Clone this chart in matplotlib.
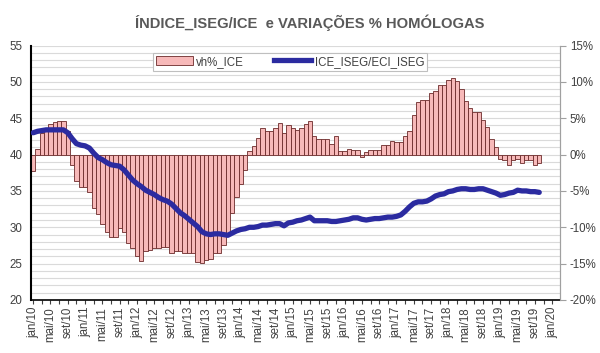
import matplotlib
matplotlib.use("Agg")
import matplotlib.pyplot as plt
from matplotlib.ticker import FixedLocator, FuncFormatter, MultipleLocator
from matplotlib.patches import Patch
from matplotlib.lines import Line2D

plt.rcParams['font.family'] = ['Liberation Sans', 'DejaVu Sans']

title = "ÍNDICE_ISEG/ICE  e VARIAÇÕES % HOMÓLOGAS"
bar_label = "vh%_ICE"
line_label = "ICE_ISEG/ECI_ISEG"

months_pt = ["jan", "fev", "mar", "abr", "mai", "jun", "jul", "ago", "set", "out", "nov", "dez"]

# year-on-year change (%) , monthly from jan/10 to out/19
vh_ice = [
    -2.2, 0.7, 3.0, 3.7, 4.2, 4.5, 4.6, 4.6, 3.2, -1.4,
    -3.7, -4.4, -4.4, -5.1, -7.4, -8.2, -9.6, -10.7, -11.3, -11.3,
    -10.1, -10.7, -12.1, -12.8, -13.9, -14.6, -13.3, -13.1, -12.8, -12.8,
    -12.7, -12.7, -13.6, -13.3, -13.3, -13.5, -13.5, -13.6, -14.8, -14.9,
    -14.5, -14.3, -13.6, -13.6, -12.5, -10.8, -8.0, -5.8, -4.1, -2.1,
    0.5, 1.2, 2.3, 3.7, 3.2, 3.2, 3.7, 4.3, 3.0, 4.0,
    3.7, 3.4, 3.6, 4.2, 4.6, 2.6, 2.1, 2.1, 2.1, 1.5,
    2.6, 0.5, 0.5, 0.8, 0.6, 0.6, -0.4, 0.3, 0.6, 0.6,
    0.6, 1.3, 1.3, 1.9, 1.7, 1.7, 2.6, 3.3, 5.4, 7.2,
    7.5, 7.5, 8.4, 8.8, 9.6, 9.6, 10.2, 10.5, 10.1, 9.0,
    7.4, 6.4, 5.8, 5.8, 4.8, 3.8, 2.2, 1.1, -0.6, -0.7,
    -1.4, -0.8, -0.6, -1.1, -0.7, -0.8, -1.4, -1.1,
]

# ICE_ISEG/ECI_ISEG index (left axis)
ice_iseg = [
    43.0, 43.2, 43.3, 43.4, 43.4, 43.4, 43.4, 43.4, 43.0, 42.2,
    41.5, 41.3, 41.2, 40.9, 40.2, 39.6, 39.3, 38.9, 38.6, 38.5,
    38.4, 37.9, 37.2, 36.5, 36.0, 35.6, 35.1, 34.8, 34.5, 34.1,
    33.8, 33.6, 33.2, 32.6, 32.0, 31.6, 31.1, 30.6, 30.1, 29.4,
    29.1, 29.0, 29.1, 29.1, 29.0, 28.9, 29.2, 29.5, 29.7, 29.8,
    30.0, 30.0, 30.1, 30.3, 30.3, 30.4, 30.5, 30.5, 30.2, 30.6,
    30.7, 30.9, 31.0, 31.2, 31.4, 30.9, 30.9, 30.9, 30.9, 30.8,
    30.8, 30.9, 31.0, 31.1, 31.3, 31.3, 31.1, 31.0, 31.1, 31.2,
    31.2, 31.3, 31.4, 31.4, 31.5, 31.7, 32.2, 32.8, 33.3, 33.5,
    33.5, 33.6, 33.9, 34.3, 34.5, 34.6, 34.9, 35.0, 35.2, 35.3,
    35.3, 35.2, 35.2, 35.3, 35.3, 35.1, 34.9, 34.7, 34.4, 34.5,
    34.7, 34.8, 35.1, 35.0, 35.0, 34.9, 34.9, 34.8,
]

n_axis_months = 122  # jan/10 .. fev/20 category slots
tick_labels = [f"{months_pt[m % 12]}/{10 + m // 12:02d}" for m in range(0, 121, 4)]

fig = plt.figure(figsize=(6.0, 3.53), dpi=100)
ax = fig.add_axes([31/600, 1 - 300/353, (560 - 31)/600, (300 - 45.5)/353])
ax2 = ax.twinx()

x = list(range(len(vh_ice)))
ax.bar(x, vh_ice, width=1.0, color="#F7B9B9", edgecolor="#6B2A2A", linewidth=0.6, zorder=2)
ax.set_ylim(-20, 15)
ax.set_xlim(-0.5, n_axis_months - 0.2)
ax.yaxis.set_major_locator(MultipleLocator(5))
ax.yaxis.set_minor_locator(MultipleLocator(1))
ax.yaxis.set_major_formatter(FuncFormatter(lambda v, p: f"{v:.0f}%"))
ax.yaxis.tick_right()
ax.yaxis.set_label_position("right")
ax.grid(axis="y", which="both", color="#DADADA", linewidth=0.8, zorder=0)
ax.set_axisbelow(True)

xl = list(range(len(ice_iseg)))
ax2.plot(xl, ice_iseg, color="#2B2BA0", linewidth=3.8, solid_capstyle="round", zorder=3)
ax2.set_ylim(20, 55)
ax2.yaxis.set_major_locator(MultipleLocator(5))
ax2.yaxis.tick_left()
ax2.yaxis.set_label_position("left")

# x axis
ax.xaxis.set_major_locator(FixedLocator(list(range(0, 121, 4))))
ax.xaxis.set_minor_locator(FixedLocator(list(range(2, 121, 4))))
ax.set_xticklabels(tick_labels, rotation=90, fontsize=8.3, color="#404040")
ax.tick_params(axis="x", which="both", direction="out", length=3, width=0.8, color="#404040", pad=2)

ax.tick_params(axis="y", which="major", direction="out", length=4, width=0.8, color="#A0A0A0",
               labelsize=8.3, labelcolor="#404040", pad=3)
ax.tick_params(axis="y", which="minor", length=0)
ax2.tick_params(axis="y", which="major", length=0, labelsize=8.3, labelcolor="#404040", pad=6)

for a in (ax, ax2):
    a.spines["top"].set_visible(False)
ax.spines["right"].set_color("#A0A0A0")
ax2.spines["right"].set_color("#A0A0A0")
ax.spines["left"].set_visible(False)
ax2.spines["left"].set_color("#000000")
ax2.spines["left"].set_linewidth(1.5)
ax.spines["bottom"].set_color("#000000")
ax.spines["bottom"].set_linewidth(1.2)
ax2.spines["bottom"].set_visible(False)

fig.text(310/600, 1 - 23/353, title, ha="center", va="center", fontsize=10.6,
         fontweight="bold", color="#595959")

handles = [Patch(facecolor="#F7B9B9", edgecolor="#6B2A2A", linewidth=0.6),
           Line2D([0], [0], color="#2B2BA0", linewidth=3.8)]
leg = fig.legend(handles, [bar_label, line_label], ncol=2, loc="upper center",
                 bbox_to_anchor=(290/600, 1 - 47/353), fontsize=8.3, frameon=True,
                 fancybox=False, edgecolor="#BFBFBF", framealpha=1, borderpad=0.25,
                 handlelength=3.2, handleheight=0.8, columnspacing=2.6, handletextpad=0.3)
leg.get_frame().set_linewidth(0.8)
for t in leg.get_texts():
    t.set_color("#404040")

fig.savefig("out.png", dpi=100)
